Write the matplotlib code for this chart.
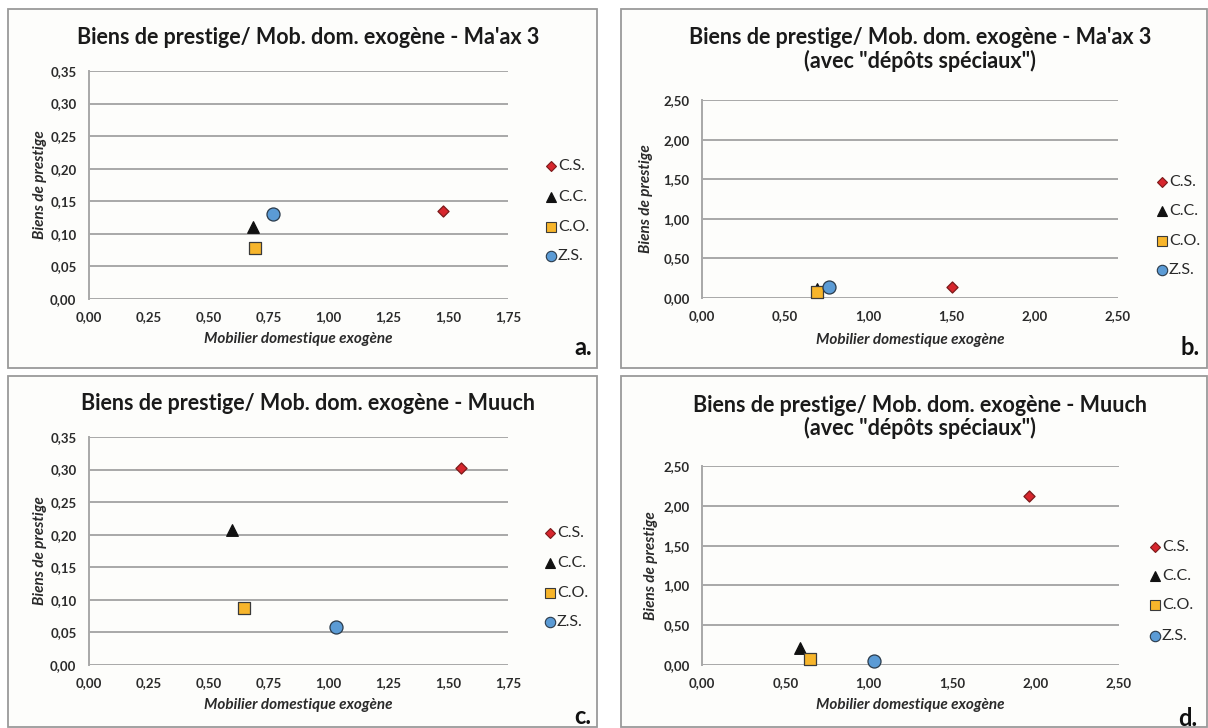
import matplotlib
matplotlib.use("Agg")
import matplotlib.pyplot as plt
from matplotlib.patches import Rectangle
from matplotlib.ticker import FuncFormatter, MultipleLocator

# Data
series = ["C.S.", "C.C.", "C.O.", "Z.S."]

maax_x = [1.48, 0.685, 0.693, 0.77]
maax_y = [0.135, 0.110, 0.078, 0.130]

maax_sp_x = [1.50, 0.69, 0.69, 0.765]
maax_sp_y = [0.14, 0.11, 0.08, 0.14]

muuch_x = [1.553, 0.597, 0.647, 1.032]
muuch_y = [0.303, 0.208, 0.088, 0.058]

muuch_sp_x = [1.96, 0.59, 0.648, 1.034]
muuch_sp_y = [2.12, 0.21, 0.08, 0.054]

# marker styles per series (s = scatter size, ms = legend marker size)
STYLES = {
    "C.S.": dict(marker="D", s=32, ms=4.8, color="#d7262d", edgecolor="#7a1a1a"),
    "C.C.": dict(marker="^", s=70, ms=7.5, color="#111111", edgecolor="#111111"),
    "C.O.": dict(marker="s", s=75, ms=7.2, color="#f7b52b", edgecolor="#3a3a3a"),
    "Z.S.": dict(marker="o", s=88, ms=7.5, color="#5b9bd5", edgecolor="#2a3a4a"),
}

W, H = 1208, 728
FONT = "Lato"
GRID = "#a8a8a8"


def fx(px):
    return px / W


def fy(py):
    return 1 - py / H


def comma(v, _):
    return f"{v:.2f}".replace(".", ",")


fig = plt.figure(figsize=(W / 100, H / 100), dpi=100)
fig.patch.set_facecolor("white")

# panel frames (behind the axes)
for (x0, y0, x1, y1) in [(8, 9, 597, 368), (621, 9, 1207, 368),
                         (8, 376, 597, 727), (621, 376, 1207, 727)]:
    fig.patches.append(Rectangle((fx(x0), fy(y1)), fx(x1 - x0), (y1 - y0) / H,
                                 transform=fig.transFigure, facecolor="#fdfdfb",
                                 edgecolor="#9a9a9a", linewidth=1.3, zorder=-5))

PANELS = [
    dict(xs=maax_x, ys=maax_y, box=(89, 71, 508, 299), xmax=1.75, xstep=0.25,
         ymax=0.35, ystep=0.05, title=["Biens de prestige/ Mob. dom. exogène - Ma'ax 3"],
         tx=308, ty=[37], ylx=47, xly=332, leg=(551, [166, 197, 227, 256]),
         tag="a.", tagpos=(583, 347)),
    dict(xs=maax_sp_x, ys=maax_sp_y, box=(702, 100, 1118, 298), xmax=2.5, xstep=0.5,
         ymax=2.5, ystep=0.5, title=["Biens de prestige/ Mob. dom. exogène - Ma'ax 3",
                                     "(avec \"dépôts spéciaux\")"],
         tx=920, ty=[37, 61], ylx=653, xly=333, leg=(1162, [182, 211, 241, 270]),
         tag="b.", tagpos=(1190, 347)),
    dict(xs=muuch_x, ys=muuch_y, box=(89, 437, 508, 665), xmax=1.75, xstep=0.25,
         ymax=0.35, ystep=0.05, title=["Biens de prestige/ Mob. dom. exogène - Muuch"],
         tx=308, ty=[403], ylx=47, xly=698, leg=(550, [533, 563, 593, 622]),
         tag="c.", tagpos=(583, 716)),
    dict(xs=muuch_sp_x, ys=muuch_sp_y, box=(702, 466, 1119, 665), xmax=2.5, xstep=0.5,
         ymax=2.5, ystep=0.5, title=["Biens de prestige/ Mob. dom. exogène - Muuch",
                                     "(avec \"dépôts spéciaux\")"],
         tx=920, ty=[405, 428], ylx=658, xly=698, leg=(1155, [547, 576, 605, 636]),
         tag="d.", tagpos=(1188, 718)),
]

for p in PANELS:
    l, t, r, b = p["box"]
    ax = fig.add_axes([fx(l), fy(b), fx(r - l), (b - t) / H])
    ax.set_facecolor("none")
    ax.set_xlim(0, p["xmax"])
    ax.set_ylim(0, p["ymax"])
    ax.xaxis.set_major_locator(MultipleLocator(p["xstep"]))
    ax.yaxis.set_major_locator(MultipleLocator(p["ystep"]))
    ax.xaxis.set_major_formatter(FuncFormatter(comma))
    ax.yaxis.set_major_formatter(FuncFormatter(comma))
    ax.grid(axis="y", color=GRID, linewidth=1.4)
    ax.set_axisbelow(True)
    for side in ["top", "right", "bottom"]:
        ax.spines[side].set_visible(False)
    ax.spines["left"].set_color(GRID)
    ax.spines["left"].set_linewidth(1.4)
    ax.tick_params(length=0, pad=9, labelsize=9.5, colors="#2a2a2a")
    for lab in ax.get_xticklabels() + ax.get_yticklabels():
        lab.set_fontfamily(FONT)
        lab.set_fontweight("bold")

    for name, x, y in zip(series, p["xs"], p["ys"]):
        st = STYLES[name]
        ax.scatter([x], [y], marker=st["marker"], s=st["s"], c=st["color"],
                   edgecolors=st["edgecolor"], linewidths=0.9, zorder=3,
                   clip_on=False, label=name)

    ax.set_xlabel("Mobilier domestique exogène", fontfamily=FONT, fontstyle="italic",
                  fontweight="bold", fontsize=11, color="#2a2a2a")
    ax.xaxis.set_label_coords(0.5, (b - p["xly"]) / (b - t))
    ax.set_ylabel("Biens de prestige", fontfamily=FONT, fontstyle="italic",
                  fontweight="bold", fontsize=11, color="#2a2a2a")
    ax.yaxis.set_label_coords((p["ylx"] - l) / (r - l), 0.5)

    for line, ty in zip(p["title"], p["ty"]):
        fig.text(fx(p["tx"]), fy(ty), line, ha="center", va="center",
                 fontfamily=FONT, fontweight="bold", fontsize=15.5, color="#1a1a1a")

    # legend, one row per series
    mx, rows = p["leg"]
    for name, ry in zip(series, rows):
        st = STYLES[name]
        fig.lines.append(plt.Line2D([fx(mx)], [fy(ry)], transform=fig.transFigure,
                                    marker=st["marker"], color=st["color"],
                                    markeredgecolor=st["edgecolor"], markeredgewidth=0.8,
                                    markersize=st["ms"], linestyle="none"))
        fig.text(fx(mx + 7), fy(ry), name, ha="left", va="center", fontfamily=FONT,
                 fontsize=11.5, color="#2a2a2a")

    fig.text(fx(p["tagpos"][0]), fy(p["tagpos"][1]), p["tag"], ha="center", va="center",
             fontfamily=FONT, fontweight="bold", fontsize=17, color="#111111")

fig.savefig("out.png", dpi=100)
